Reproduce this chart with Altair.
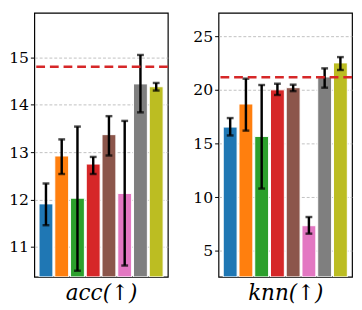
import altair as alt
import pandas as pd

methods = ["M1", "M2", "M3", "M4", "M5", "M6", "M7", "M8"]
colors = ["#1f77b4", "#ff7f0e", "#2ca02c", "#d62728", "#8c564b", "#e377c2", "#7f7f7f", "#bcbd22"]

acc_mean = [11.91, 12.92, 12.03, 12.75, 13.37, 12.13, 14.44, 14.38]
acc_lo = [11.46, 12.54, 10.50, 12.54, 12.93, 10.61, 13.84, 14.30]
acc_hi = [12.34, 13.27, 13.54, 12.90, 13.76, 13.66, 15.05, 14.46]
acc_ref = 14.80
acc_ticks = [11, 12, 13, 14, 15]
acc_domain = [10.37, 15.94]

knn_mean = [16.53, 18.68, 15.66, 20.00, 20.20, 7.34, 21.20, 22.51]
knn_lo = [15.75, 16.20, 10.80, 19.52, 19.88, 6.60, 20.20, 21.85]
knn_hi = [17.37, 21.04, 20.45, 20.57, 20.48, 8.15, 22.00, 23.05]
knn_ref = 21.17
knn_ticks = [5, 10, 15, 20, 25]
knn_domain = [2.57, 27.18]

FONT = "DejaVu Serif"


def panel(mean, lo, hi, ref, ticks, domain, title, width):
    df = pd.DataFrame({"method": methods, "mean": mean, "lo": lo, "hi": hi})
    x = alt.X("method:N", sort=methods,
              scale=alt.Scale(paddingInner=0.12, paddingOuter=0.3),
              axis=alt.Axis(labels=False, ticks=False, domain=False, title=title,
                            titleFont=FONT, titleFontSize=22, titleFontStyle="italic",
                            titleFontWeight="normal", titleColor="black", titlePadding=6))
    yscale = alt.Scale(domain=domain, nice=False, zero=False)
    base = alt.Chart(df)
    bars = base.mark_bar(clip=True, stroke="white", strokeWidth=1).encode(
        x=x,
        y=alt.Y("mean:Q", scale=yscale,
                axis=alt.Axis(values=ticks, title=None, labelFont=FONT, labelFontSize=16,
                              labelColor="black", labelPadding=2, tickSize=4,
                              tickColor="black", tickWidth=1, domain=False,
                              grid=True, gridDash=[3, 2], gridColor="#b0b0b0", gridWidth=0.8)),
        y2=alt.datum(domain[0]),
        color=alt.Color("method:N", sort=methods,
                        scale=alt.Scale(domain=methods, range=colors), legend=None),
    )
    err = base.mark_rule(color="black", strokeWidth=2.5).encode(
        x=alt.X("method:N", sort=methods), y="lo:Q", y2="hi:Q")
    cap_lo = base.mark_tick(color="black", thickness=2.5, size=7, orient="horizontal").encode(
        x=alt.X("method:N", sort=methods), y="lo:Q")
    cap_hi = base.mark_tick(color="black", thickness=2.5, size=7, orient="horizontal").encode(
        x=alt.X("method:N", sort=methods), y="hi:Q")
    refline = alt.Chart(pd.DataFrame({"ref": [ref]})).mark_rule(
        color="#d62728", strokeWidth=2.5, strokeDash=[9, 5]).encode(y="ref:Q")
    return alt.layer(bars, err, cap_lo, cap_hi, refline).properties(width=width, height=271)


left = panel(acc_mean, acc_lo, acc_hi, acc_ref, acc_ticks, acc_domain, "acc(↑)", 137)
right = panel(knn_mean, knn_lo, knn_hi, knn_ref, knn_ticks, knn_domain, "knn(↑)", 137)

chart = alt.hconcat(left, right, spacing=23).resolve_scale(
    y="independent", color="shared"
).properties(
    padding=0, background="white"
).configure_view(stroke="black", strokeWidth=1.2)

chart.save("out.html", embed_options={"renderer": "svg", "actions": False})
